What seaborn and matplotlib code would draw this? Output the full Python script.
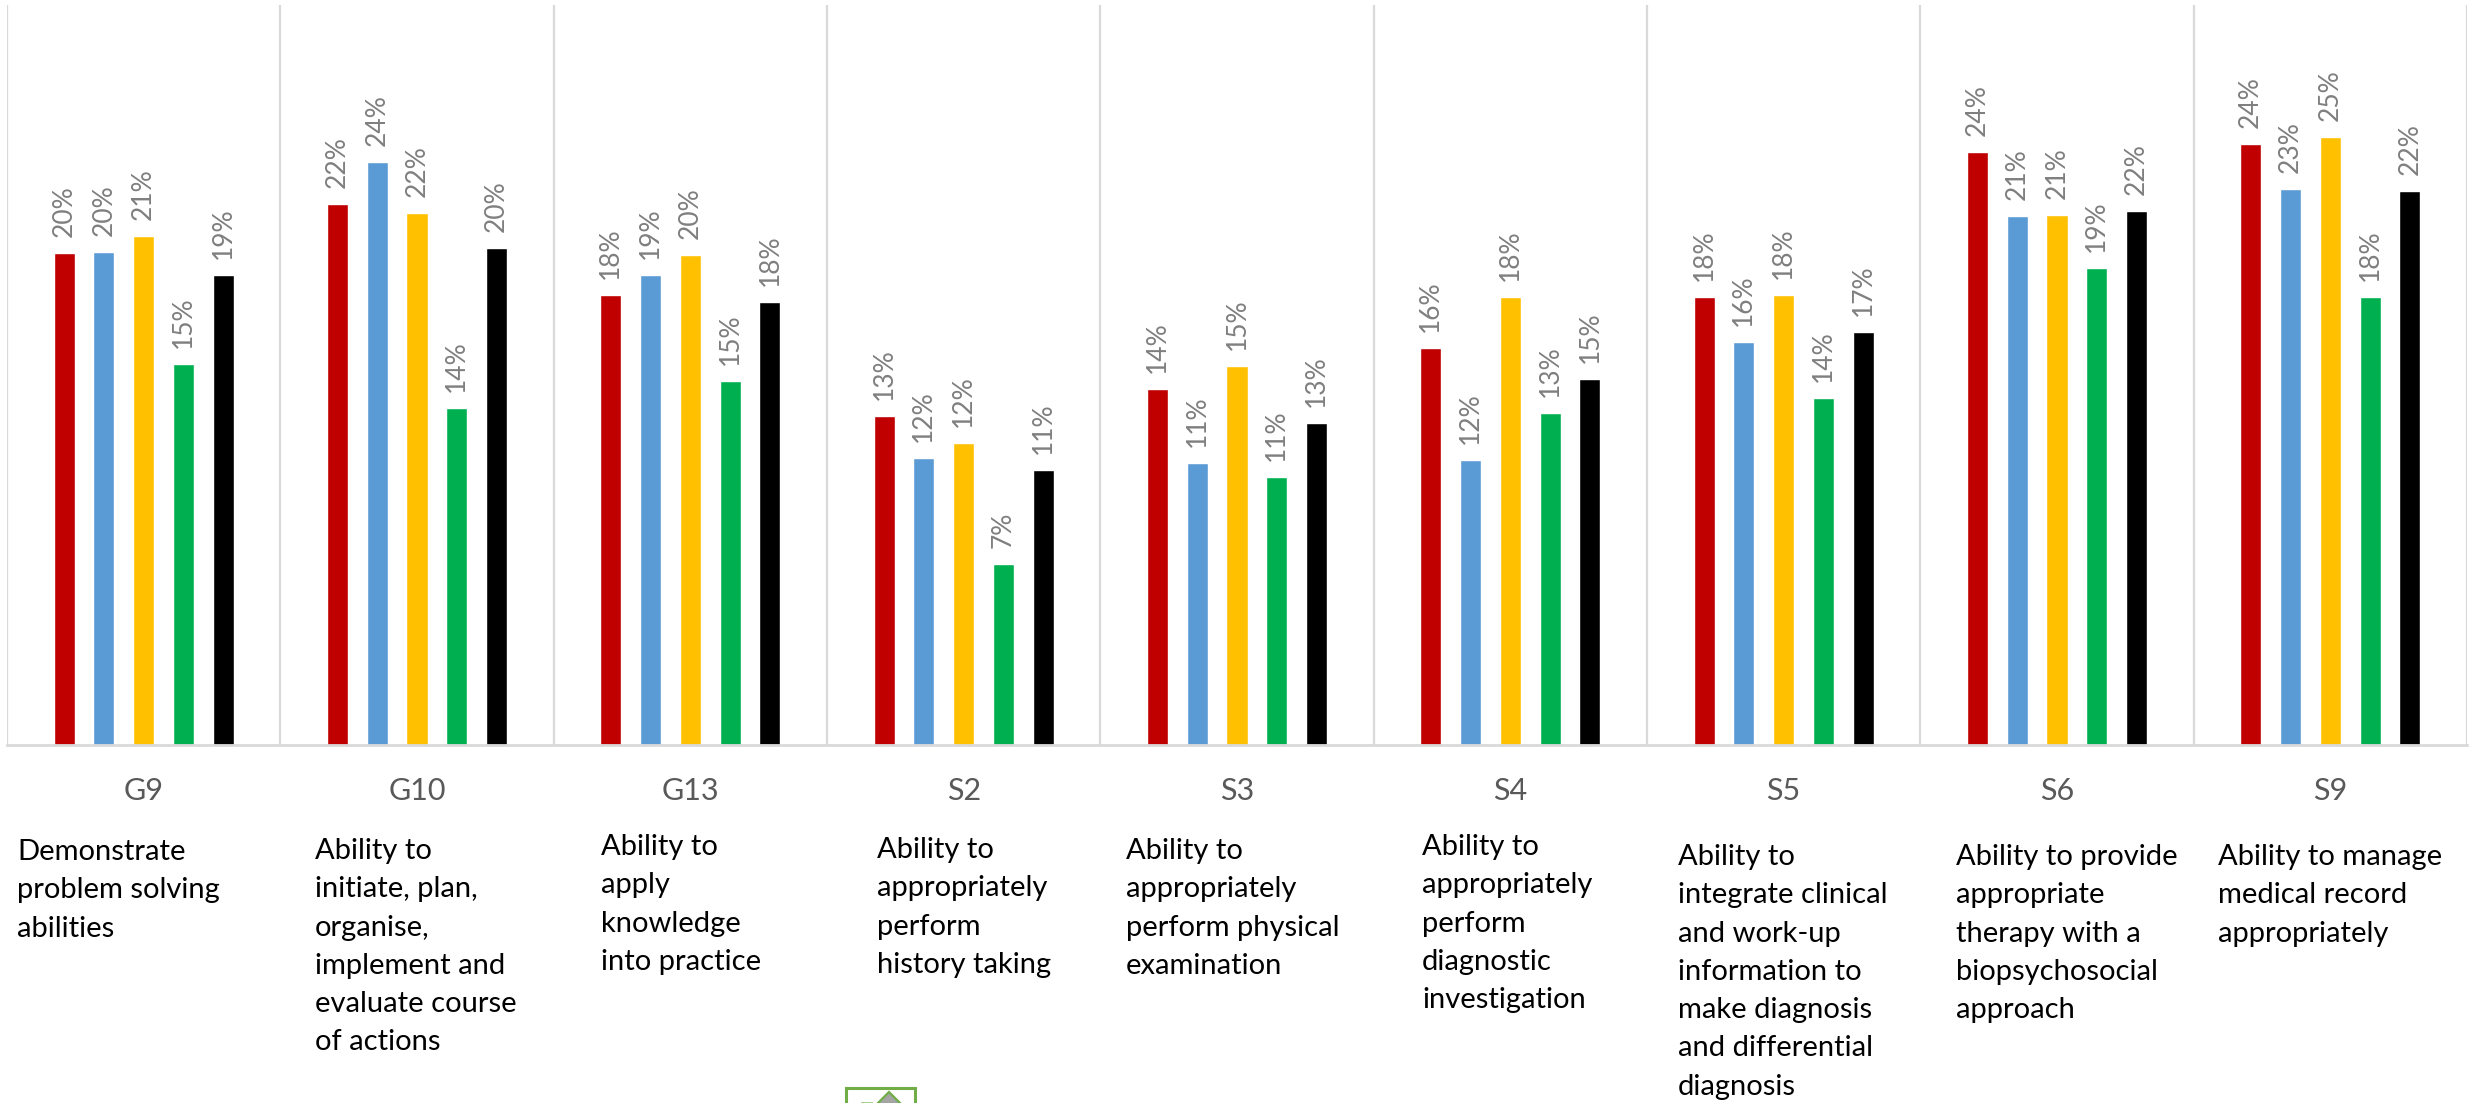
import numpy as np
import pandas as pd
import matplotlib
matplotlib.use("Agg")
import matplotlib.pyplot as plt
from matplotlib.patches import Rectangle, Polygon
import seaborn as sns

# ---- data -------------------------------------------------------------
categories = ["G9", "G10", "G13", "S2", "S3", "S4", "S5", "S6", "S9"]
series_names = ["Series 1", "Series 2", "Series 3", "Series 4", "Series 5"]
series_1 = [19.95, 21.95, 18.25, 13.35, 14.45, 16.1, 18.15, 24.05, 24.35]
series_2 = [20.0, 23.65, 19.05, 11.65, 11.45, 11.55, 16.35, 21.45, 22.55]
series_3 = [20.65, 21.55, 19.85, 12.25, 15.35, 18.15, 18.25, 21.49, 24.65]
series_4 = [15.45, 13.65, 14.75, 7.35, 10.85, 13.45, 14.05, 19.35, 18.15]
series_5 = [19.05, 20.15, 17.95, 11.15, 13.05, 14.85, 16.75, 21.65, 22.45]
colors = ["#C00000", "#5B9BD5", "#FFC000", "#00B050", "#000000"]

descriptions = [
    ["Demonstrate", "problem solving", "abilities"],
    ["Ability to", "initiate, plan,", "organise,", "implement and", "evaluate course", "of actions"],
    ["Ability to", "apply", "knowledge", "into practice"],
    ["Ability to", "appropriately", "perform", "history taking"],
    ["Ability to", "appropriately", "perform physical", "examination"],
    ["Ability to", "appropriately", "perform", "diagnostic", "investigation"],
    ["Ability to", "integrate clinical", "and work-up", "information to", "make diagnosis",
     "and differential", "diagnosis"],
    ["Ability to provide", "appropriate", "therapy with a", "biopsychosocial", "approach"],
    ["Ability to manage", "medical record", "appropriately"],
]

# ---- layout (pixels in the 2469x1103 frame) ----------------------------
W, H = 2469, 1103
desc_x = [17, 315, 601, 877, 1126, 1422, 1678, 1956, 2218]
desc_y = [860, 859, 855, 858, 859, 855, 865, 865, 865]
line_pitch = 38.3

df = pd.DataFrame({
    "category": categories * 5,
    "series": np.repeat(series_names, len(categories)),
    "value": series_1 + series_2 + series_3 + series_4 + series_5,
})

sns.set_theme(style="white")
plt.rcParams["font.family"] = ["Lato", "DejaVu Sans"]

fig = plt.figure(figsize=(W / 100, H / 100), dpi=100, facecolor="white")
ax = fig.add_axes([7 / W, (H - 745) / H, 2460 / W, 740 / H])

sns.barplot(data=df, x="category", y="value", hue="series", order=categories,
            hue_order=series_names, palette=colors, width=0.728, gap=0.472,
            saturation=1, legend=False, ax=ax)

for c in ax.containers:
    ax.bar_label(c, fmt="{:.0f}%", rotation=90, padding=11.5, fontsize=19, color="#7F7F7F")

ax.set_xlim(-0.5, 8.5)
ax.set_ylim(0, 30)
ax.set_xlabel("")
ax.set_ylabel("")
ax.set_yticks([])
ax.tick_params(axis="x", length=0, pad=23, labelsize=22, labelcolor="#595959")

ax.set_xticks(np.arange(-0.5, 9, 1), minor=True)
ax.tick_params(axis="x", which="minor", length=0)
ax.grid(which="minor", axis="x", color="#D9D9D9", linewidth=1.6)
ax.set_axisbelow(True)
for side in ("top", "left", "right"):
    ax.spines[side].set_visible(False)
ax.spines["bottom"].set_color("#D9D9D9")
ax.spines["bottom"].set_linewidth(2)

for lines, x0, y0 in zip(descriptions, desc_x, desc_y):
    for i, line in enumerate(lines):
        fig.text(x0 / W, 1 - (y0 + i * line_pitch) / H, line, fontsize=21,
                 color="black", ha="left", va="baseline")

# small clipped picture frame at the bottom edge
fig.add_artist(Rectangle((846 / W, 1 - 1109 / H), 68.5 / W, 21 / H, transform=fig.transFigure,
                         facecolor="white", edgecolor="#70AD47", linewidth=2.2))
fig.add_artist(Polygon([[889 / W, 1 - 1092 / H], [877 / W, 1 - 1104 / H], [901 / W, 1 - 1104 / H]],
                       closed=True, transform=fig.transFigure,
                       facecolor="#A5A5A5", edgecolor="#70AD47", linewidth=1.6))
fig.add_artist(Rectangle((861 / W, 1 - 1104 / H), 12 / W, 2.5 / H, transform=fig.transFigure,
                         facecolor="#A9D18E", edgecolor="none"))

fig.savefig("out.png", dpi=100)
